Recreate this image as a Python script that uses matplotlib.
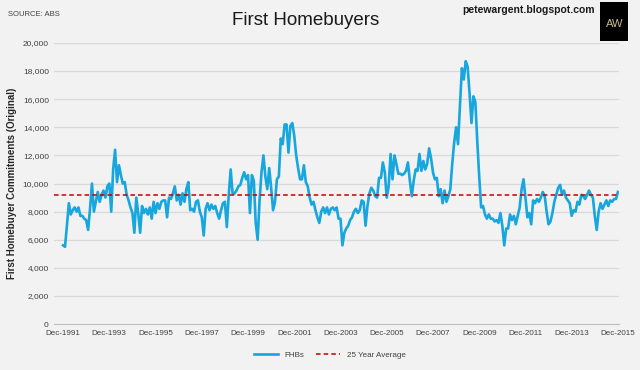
import numpy as np
import pandas as pd
import matplotlib
matplotlib.use('Agg')
import matplotlib.pyplot as plt
from matplotlib.patches import Rectangle

# first homebuyer commitments, monthly Dec-1991 .. Dec-2015
fhb_1991 = [5600]
fhb_1992 = [5500, 7000, 8600, 7800, 8100, 8300, 8000, 8300, 7700, 7700, 7500, 7400]
fhb_1993 = [6700, 8200, 10000, 8000, 8700, 9400, 8700, 9200, 9500, 9000, 9800, 10000]
fhb_1994 = [8000, 11000, 12400, 10100, 11300, 10600, 10000, 10100, 9200, 8800, 8300, 7900]
fhb_1995 = [6500, 9000, 7900, 6500, 8400, 7900, 8200, 7800, 8300, 7500, 8700, 7900]
fhb_1996 = [8600, 8200, 8700, 8800, 8800, 7600, 9000, 8900, 9300, 9800, 8800, 9200]
fhb_1997 = [8500, 9300, 8700, 9600, 10100, 8100, 8200, 8000, 8700, 8800, 8000, 7600]
fhb_1998 = [6300, 8200, 8600, 8100, 8500, 8200, 8400, 7900, 7500, 8100, 8600, 8700]
fhb_1999 = [6900, 9200, 11000, 9300, 9300, 9500, 9800, 9900, 10400, 10800, 10300, 10600]
fhb_2000 = [7900, 10600, 10200, 7200, 6000, 8800, 10800, 12000, 10500, 9600, 11100, 9700]
fhb_2001 = [8100, 8700, 10300, 10500, 13200, 12800, 14200, 14200, 12200, 14100, 14300, 13400]
fhb_2002 = [12000, 11100, 10300, 10300, 11300, 10100, 9800, 9000, 8500, 8700, 8100, 7600]
fhb_2003 = [7200, 8000, 8300, 7900, 8300, 7800, 8200, 8300, 8100, 8300, 7500, 7500]
fhb_2004 = [5600, 6500, 6800, 7000, 7400, 7600, 8000, 8200, 7900, 8100, 8800, 8700]
fhb_2005 = [7000, 8400, 9300, 9700, 9500, 9100, 9000, 10400, 10400, 11500, 10800, 9000]
fhb_2006 = [9800, 12100, 10300, 12000, 11400, 10700, 10700, 10600, 10700, 10900, 11500, 10200]
fhb_2007 = [9100, 10200, 11000, 10900, 12100, 10900, 11600, 11000, 11400, 12500, 11800, 10800]
fhb_2008 = [10300, 10400, 9100, 9600, 8600, 9500, 8700, 9100, 9600, 11400, 12900, 14000]
fhb_2009 = [12800, 15500, 18200, 17400, 18700, 18300, 16400, 14300, 16200, 15800, 13000, 10500]
fhb_2010 = [8300, 8400, 7800, 7500, 7800, 7500, 7500, 7300, 7400, 7200, 7900, 7000]
fhb_2011 = [5600, 6800, 6800, 7800, 7400, 7700, 7100, 7700, 8300, 9600, 10300, 9000]
fhb_2012 = [7600, 7900, 7100, 8800, 8600, 8900, 8700, 9000, 9400, 9100, 8000, 7100]
fhb_2013 = [7300, 7900, 8700, 9200, 9700, 9900, 9200, 9500, 9000, 8800, 8600, 7700]
fhb_2014 = [8100, 8000, 8700, 8500, 9200, 9100, 8900, 9200, 9500, 9200, 9000, 7700]
fhb_2015 = [6700, 8000, 8600, 8200, 8500, 8800, 8400, 8800, 8700, 8900, 8900, 9400]

fhb = (fhb_1991 + fhb_1992 + fhb_1993 + fhb_1994 + fhb_1995 + fhb_1996 + fhb_1997
       + fhb_1998 + fhb_1999 + fhb_2000 + fhb_2001 + fhb_2002 + fhb_2003 + fhb_2004
       + fhb_2005 + fhb_2006 + fhb_2007 + fhb_2008 + fhb_2009 + fhb_2010 + fhb_2011
       + fhb_2012 + fhb_2013 + fhb_2014 + fhb_2015)

avg_25yr = 9200
y_ticks = [0, 2000, 4000, 6000, 8000, 10000, 12000, 14000, 16000, 18000, 20000]

months = pd.date_range('1991-12-01', periods=len(fhb), freq='MS')
tick_pos = list(range(0, len(fhb), 24))
tick_labels = [months[i].strftime('%b-%Y') for i in tick_pos]

bg = '#F2F2F2'
font = ['Liberation Sans', 'DejaVu Sans']

fig = plt.figure(figsize=(6.4, 3.7), dpi=100, facecolor=bg)
ax = fig.add_axes([0.085, 0.124, 0.882, 0.76], facecolor=bg)

x = np.arange(len(fhb))
ax.plot(x, fhb, color='#17A6DE', lw=1.9, label='FHBs', solid_joinstyle='round')
ax.axhline(avg_25yr, color='#C00000', lw=1.1, ls=(0, (3, 2)), label='25 Year Average')

ax.set_ylim(0, 20000)
ax.set_xlim(-4.5, len(fhb) - 0.5)
ax.set_yticks(y_ticks)
ax.set_yticklabels([f'{v:,}' for v in y_ticks], fontsize=6, family=font, color='#404040')
ax.set_xticks(tick_pos)
ax.set_xticklabels(tick_labels, fontsize=5.8, family=font, color='#404040')
ax.tick_params(length=0, pad=4)
ax.grid(axis='y', color='#D9D9D9', lw=0.9)
ax.set_axisbelow(True)
for s in ['top', 'right', 'left']:
    ax.spines[s].set_visible(False)
ax.spines['bottom'].set_color('#BFBFBF')

ax.set_ylabel('First Homebuyer Commitments (Original)', fontsize=7, fontweight='bold',
              family=font, color='#262626', labelpad=4)

fig.text(0.477, 0.945, 'First Homebuyers', ha='center', va='center', fontsize=13.5,
         family=font, color='#1A1A1A')
fig.text(0.013, 0.962, 'SOURCE: ABS', ha='left', va='center', fontsize=5.5,
         family=font, color='#404040')
fig.text(0.93, 0.972, 'petewargent.blogspot.com', ha='right', va='center', fontsize=7.5,
         fontweight='bold', family=font, color='#1A1A1A')
fig.patches.append(Rectangle((0.938, 0.89), 0.044, 0.105, transform=fig.transFigure,
                             facecolor='black', edgecolor='none'))
fig.text(0.960, 0.935, 'AW', ha='center', va='center', fontsize=8,
         family=font, color='#C9B98A')

leg = fig.legend(loc='center', bbox_to_anchor=(0.515, 0.04), ncol=2, frameon=False,
                 handlelength=3, columnspacing=1.5, prop={'family': font, 'size': 5.8})
for t in leg.get_texts():
    t.set_color('#404040')

fig.savefig('out.png', dpi=100, facecolor=bg)
